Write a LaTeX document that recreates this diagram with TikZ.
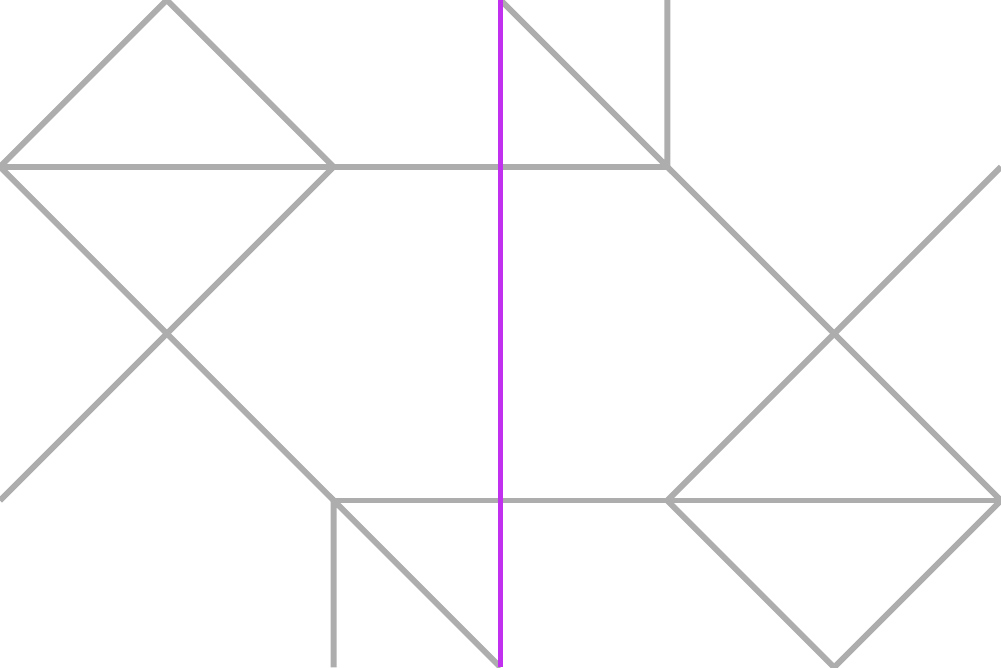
\documentclass[tikz,border=0pt]{standalone}
\usetikzlibrary{calc}
\definecolor{gridgray}{HTML}{ADADAD}
\definecolor{axispurple}{HTML}{C030EE}

\begin{document}
\begin{tikzpicture}[
  scale=1.0,
  edge/.style={gridgray, line width=1pt},
  axis/.style={axispurple, line width=1pt},
]
  \useasboundingbox (0,0) rectangle (6,4);

  % upper half
  \coordinate (P1) at (0,3);
  \coordinate (P2) at (1,4);
  \coordinate (P3) at (2,3);
  \coordinate (P4) at (3,4);
  \coordinate (P5) at (4,3);
  \coordinate (P6) at (4,4);
  \coordinate (P7) at (6,3);
  % lower half
  \coordinate (Q1) at (0,1);
  \coordinate (Q2) at (2,1);
  \coordinate (Q3) at (2,0);
  \coordinate (Q4) at (3,0);
  \coordinate (Q5) at (4,1);
  \coordinate (Q6) at (5,0);
  \coordinate (Q7) at (6,1);

  \draw[edge] (P1)--(P2)--(P3);
  \draw[edge] (P1)--(P5);
  \draw[edge] (P1)--(Q2);
  \draw[edge] (P3)--(Q1);
  \draw[edge] (P4)--(P5)--(P6);
  \draw[edge] (P5)--(Q7);
  \draw[edge] (P7)--(Q5);

  \draw[edge] (Q2)--(Q7);
  \draw[edge] (Q3)--(Q2)--(Q4);
  \draw[edge] (Q5)--(Q6)--(Q7);

  % symmetry axis
  \draw[axis] (Q4)--(P4);
\end{tikzpicture}
\end{document}
